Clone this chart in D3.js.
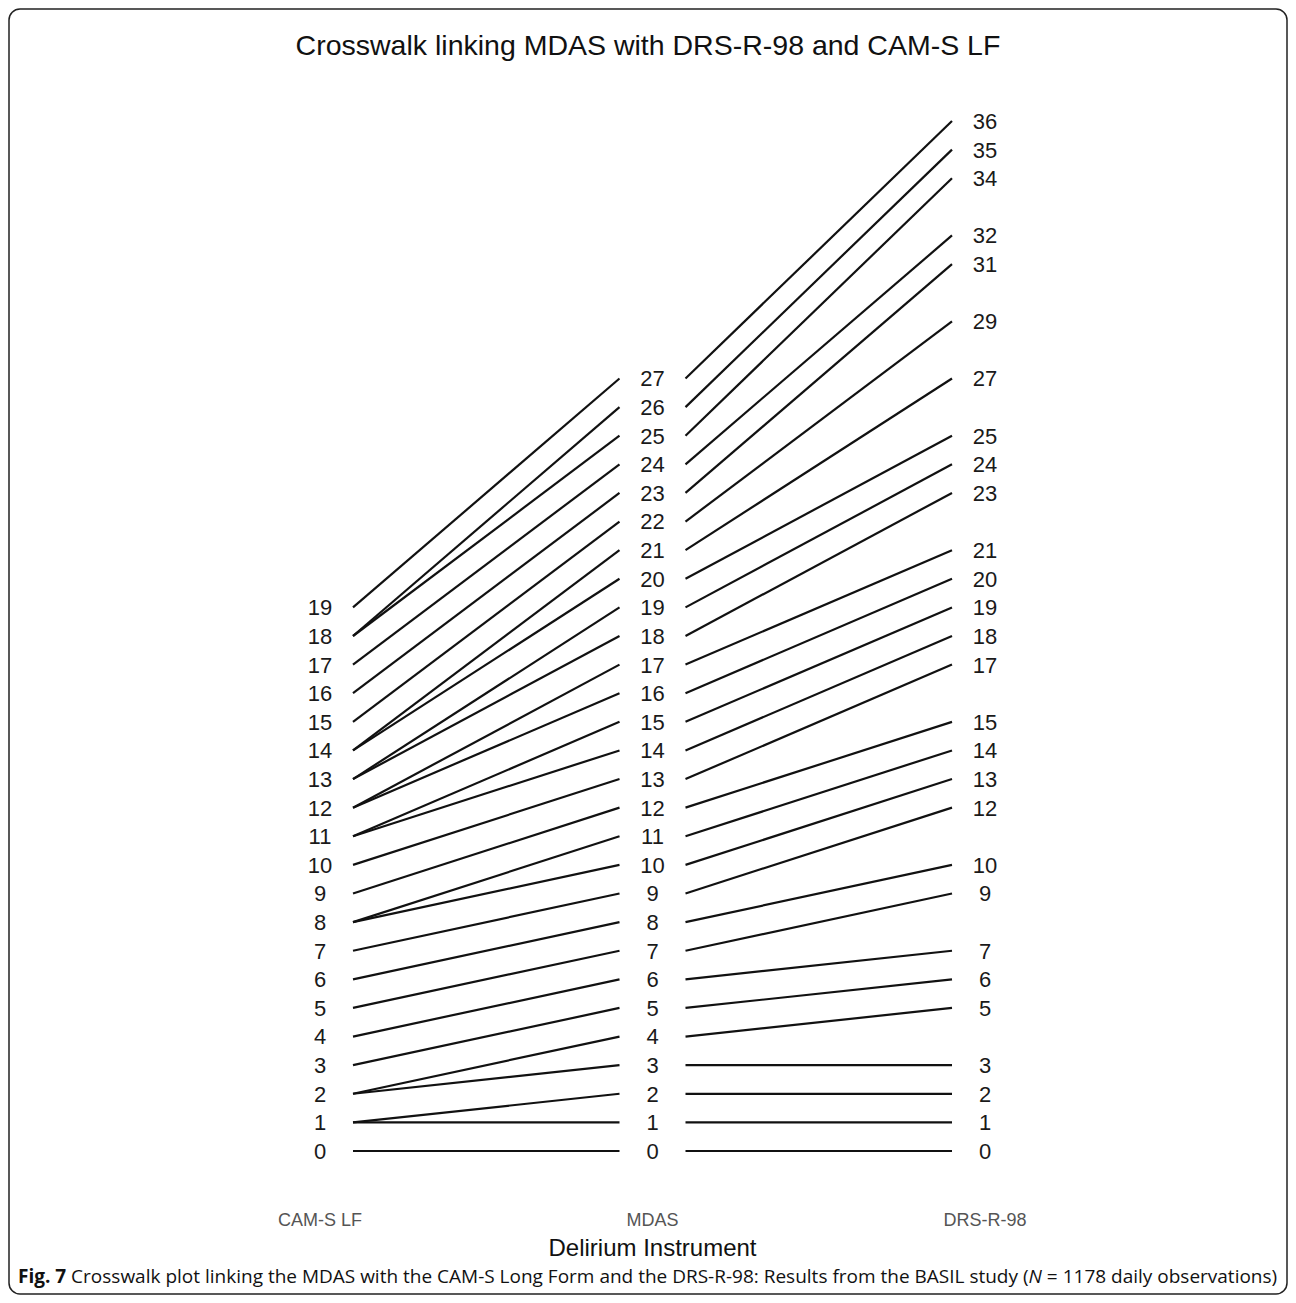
<!DOCTYPE html>
<html>
<head>
<meta charset="utf-8">
<script src="https://cdn.jsdelivr.net/npm/d3@7"></script>
<style>
  body { margin: 0; background: #fff; }
</style>
</head>
<body>
<div id="chart"></div>
<script>
// instruments on the x axis (left, middle, right)
var instruments = ["CAM-S LF", "MDAS", "DRS-R-98"];

// MDAS score and the linked score on the other two instruments
var mdasScores = [0, 1, 2, 3, 4, 5, 6, 7, 8, 9, 10, 11, 12, 13, 14, 15, 16, 17, 18, 19, 20, 21, 22, 23, 24, 25, 26, 27];
var camScores  = [0, 1, 1, 2, 2, 3, 4, 5, 6, 7, 8, 8, 9, 10, 11, 11, 12, 12, 13, 13, 14, 14, 15, 16, 17, 18, 18, 19];
var drsScores  = [0, 1, 2, 3, 5, 6, 7, 9, 10, 12, 13, 14, 15, 17, 18, 19, 20, 21, 23, 24, 25, 27, 29, 31, 32, 34, 35, 36];

var title = "Crosswalk linking MDAS with DRS-R-98 and CAM-S LF";
var xTitle = "Delirium Instrument";

var W = 1296, H = 1303;

var svg = d3.select("#chart")
  .append("svg")
    .attr("width", W)
    .attr("height", H)
    .style("font-family", "Liberation Sans, Arial, sans-serif");

// figure frame
svg.append("rect")
  .attr("x", 9).attr("y", 9)
  .attr("width", W - 18).attr("height", H - 18)
  .attr("rx", 11)
  .attr("fill", "none")
  .attr("stroke", "#222")
  .attr("stroke-width", 1.5);

var x = d3.scalePoint()
  .domain(instruments)
  .range([320, 985]);

var y = d3.scaleLinear()
  .domain([0, 36])
  .range([1151, 121]);

var inset = 33;

var links = mdasScores.map(function(m, i) {
  return { mdas: m, cam: camScores[i], drs: drsScores[i] };
});

// left block: CAM-S LF -> MDAS
svg.append("g")
  .selectAll("line")
  .data(links)
  .enter()
  .append("line")
    .attr("x1", x("CAM-S LF") + inset)
    .attr("x2", x("MDAS") - inset)
    .attr("y1", function(d) { return y(d.cam) })
    .attr("y2", function(d) { return y(d.mdas) })
    .attr("stroke", "#111")
    .attr("stroke-width", 2.2);

// right block: MDAS -> DRS-R-98
svg.append("g")
  .selectAll("line")
  .data(links)
  .enter()
  .append("line")
    .attr("x1", x("MDAS") + inset)
    .attr("x2", x("DRS-R-98") - inset)
    .attr("y1", function(d) { return y(d.mdas) })
    .attr("y2", function(d) { return y(d.drs) })
    .attr("stroke", "#111")
    .attr("stroke-width", 2.2);

// score labels for each column
var columns = [
  { name: "CAM-S LF", values: Array.from(new Set(camScores)) },
  { name: "MDAS", values: mdasScores },
  { name: "DRS-R-98", values: Array.from(new Set(drsScores)) }
];

columns.forEach(function(col) {
  svg.append("g")
    .selectAll("text")
    .data(col.values)
    .enter()
    .append("text")
      .attr("x", x(col.name))
      .attr("y", function(d) { return y(d) })
      .attr("dy", "0.36em")
      .attr("text-anchor", "middle")
      .attr("font-size", 22)
      .attr("fill", "#1a1a1a")
      .text(function(d) { return d });
});

// instrument names under the columns
svg.append("g")
  .selectAll("text")
  .data(instruments)
  .enter()
  .append("text")
    .attr("x", function(d) { return x(d) })
    .attr("y", 1220)
    .attr("dy", "0.35em")
    .attr("text-anchor", "middle")
    .attr("font-size", 18)
    .attr("fill", "#555")
    .text(function(d) { return d });

svg.append("text")
  .attr("x", x("MDAS"))
  .attr("y", 1248)
  .attr("dy", "0.35em")
  .attr("text-anchor", "middle")
  .attr("font-size", 24)
  .attr("fill", "#111")
  .text(xTitle);

svg.append("text")
  .attr("x", W / 2)
  .attr("y", 45)
  .attr("dy", "0.35em")
  .attr("text-anchor", "middle")
  .attr("font-size", 28.5)
  .attr("fill", "#111")
  .text(title);

// caption
var cap = svg.append("text")
  .attr("x", 18)
  .attr("y", 1276)
  .attr("dy", "0.35em")
  .attr("font-family", "Open Sans, sans-serif")
  .attr("font-size", 19)
  .attr("fill", "#111");
cap.append("tspan").attr("font-weight", "bold").text("Fig. 7");
cap.append("tspan").text(" Crosswalk plot linking the MDAS with the CAM-S Long Form and the DRS-R-98: Results from the BASIL study (");
cap.append("tspan").attr("font-style", "italic").text("N");
cap.append("tspan").text(" = 1178 daily observations)");
</script>
</body>
</html>
